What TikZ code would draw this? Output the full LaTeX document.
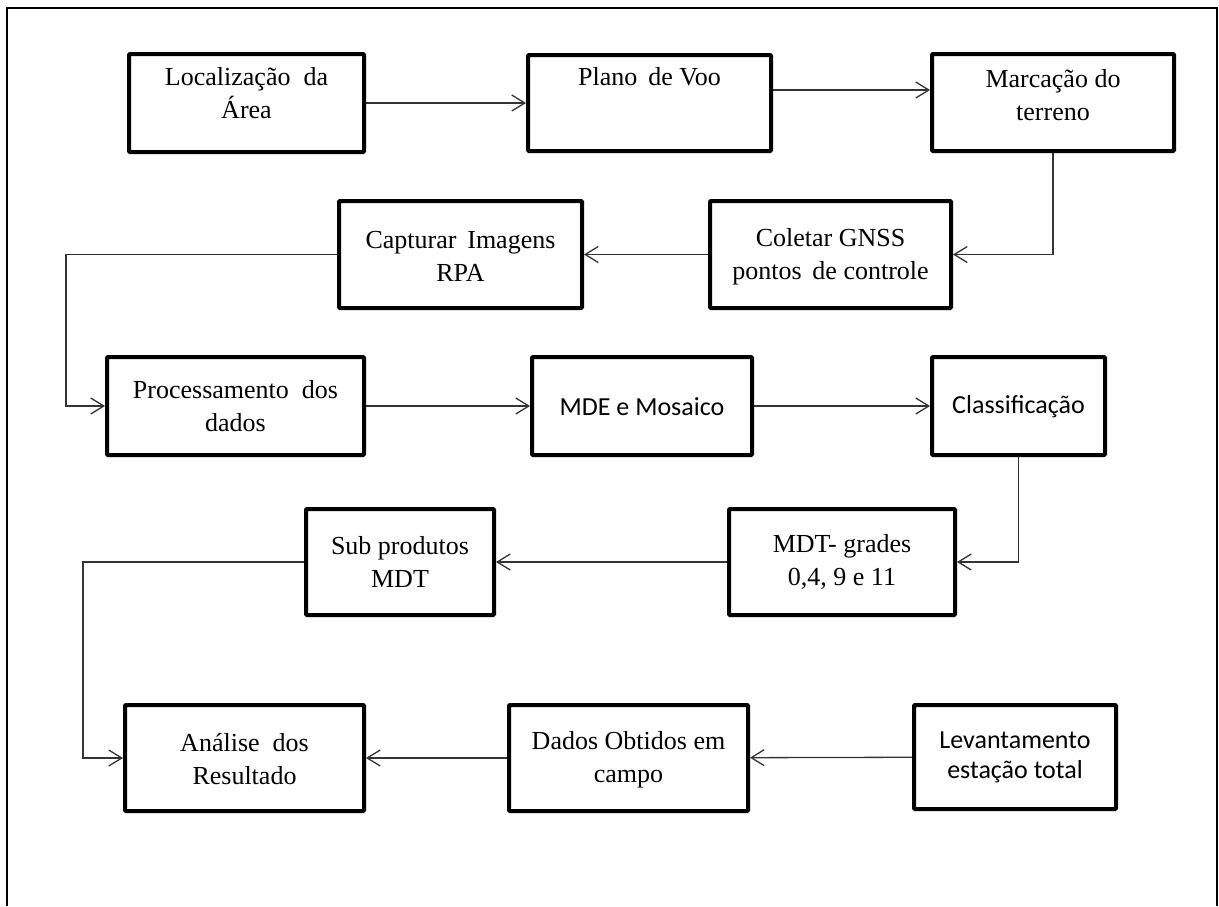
\documentclass[tikz,border=0pt]{standalone}
\usepackage{fontspec}
\setmainfont{Liberation Serif}
\newfontfamily\calibri{Carlito}
\usetikzlibrary{arrows.meta}
\begin{document}
\begin{tikzpicture}[x=1pt,y=-1pt,
  box/.style={draw=black, line width=4pt, rounded corners=1pt, inner sep=0pt},
  lbl/.style={align=center, inner sep=0pt, font=\fontsize{26}{33}\selectfont},
  slbl/.style={align=center, inner sep=0pt, font=\calibri\fontsize{26}{30}\selectfont},
  conn/.style={draw=black!80, line width=1.3pt, -{Straight Barb[length=13pt,width=16pt]}}
]
\useasboundingbox (0,0) rectangle (1219,906);
% outer frame, open at the bottom
\draw[line width=1.5pt] (7,906) -- (7,8) -- (1217,8) -- (1217,906);

% process boxes
\node[box, minimum width=235pt, minimum height=98pt]  (loc)     at (246.5,103) {};
\node[box, minimum width=243pt, minimum height=96pt]  (plano)   at (649.5,103) {};
\node[box, minimum width=242pt, minimum height=97pt]  (marc)    at (1053,102.5) {};
\node[box, minimum width=243pt, minimum height=107pt] (capt)    at (460.5,254.5) {};
\node[box, minimum width=241pt, minimum height=107pt] (colet)   at (830.5,254.5) {};
\node[box, minimum width=257pt, minimum height=98pt]  (proc)    at (235.5,406) {};
\node[box, minimum width=220pt, minimum height=98pt]  (mde)     at (642,406) {};
\node[box, minimum width=173pt, minimum height=98pt]  (classif) at (1018.5,406) {};
\node[box, minimum width=226pt, minimum height=106pt] (mdt)     at (842,562) {};
\node[box, minimum width=188pt, minimum height=106pt] (sub)     at (400,562) {};
\node[box, minimum width=239pt, minimum height=106pt] (anal)    at (244.5,758) {};
\node[box, minimum width=239pt, minimum height=106pt] (dados)   at (628.5,758) {};
\node[box, minimum width=202pt, minimum height=104pt] (lev)     at (1015,757) {};

% box texts
\node[lbl]  (loc-t)     at (246.5,93.5) {Localização\ \ da\\Área};
\node[lbl]  (plano-t)   at (649.5,77)   {Plano\ \,de Voo};
\node[lbl]  (marc-t)    at (1053,95)    {Marcação do\\terreno};
\node[lbl]  (capt-t)    at (460.5,256.5){Capturar\ \,Imagens\\RPA};
\node[lbl]  (colet-t)   at (830.5,256.5){Coletar GNSS\\pontos\ \,de controle};
\node[lbl]  (proc-t)    at (235.5,406.5){Processamento\ \ dos\\dados};
\node[slbl] (mde-t)     at (642,407)    {MDE e Mosaico};
\node[slbl] (classif-t) at (1018.5,407) {Classificação};
\node[lbl]  (mdt-t)     at (842,561.5)  {MDT- grades\\0,4, 9 e 11};
\node[lbl]  (sub-t)     at (400,561.5)  {Sub produtos\\MDT};
\node[lbl]  (anal-t)    at (244.5,759)  {Análise\ \ dos\\Resultado};
\node[lbl]  (dados-t)   at (628.5,759.5){Dados Obtidos em\\campo};
\node[slbl] (lev-t)     at (1015,757.5) {Levantamento\\estação total};

% routing points
\coordinate (pv)  at (0,90);
\coordinate (c5)  at (66,0);
\coordinate (c10) at (83,0);

% connectors
\draw[conn] (loc) -- (plano);
\draw[conn] (plano.east |- pv) -- (marc.west |- pv);
\draw[conn] (marc.south) |- (colet.east);
\draw[conn] (colet) -- (capt);
\draw[conn] (capt.west) -- (capt.west -| c5) |- (proc.west);
\draw[conn] (proc) -- (mde);
\draw[conn] (mde) -- (classif);
\draw[conn] (classif.south) |- (mdt.east);
\draw[conn] (mdt) -- (sub);
\draw[conn] (sub.west) -- (sub.west -| c10) |- (anal.west);
\draw[conn] (dados) -- (anal);
\draw[conn] (lev) -- (dados);
\end{tikzpicture}
\end{document}
